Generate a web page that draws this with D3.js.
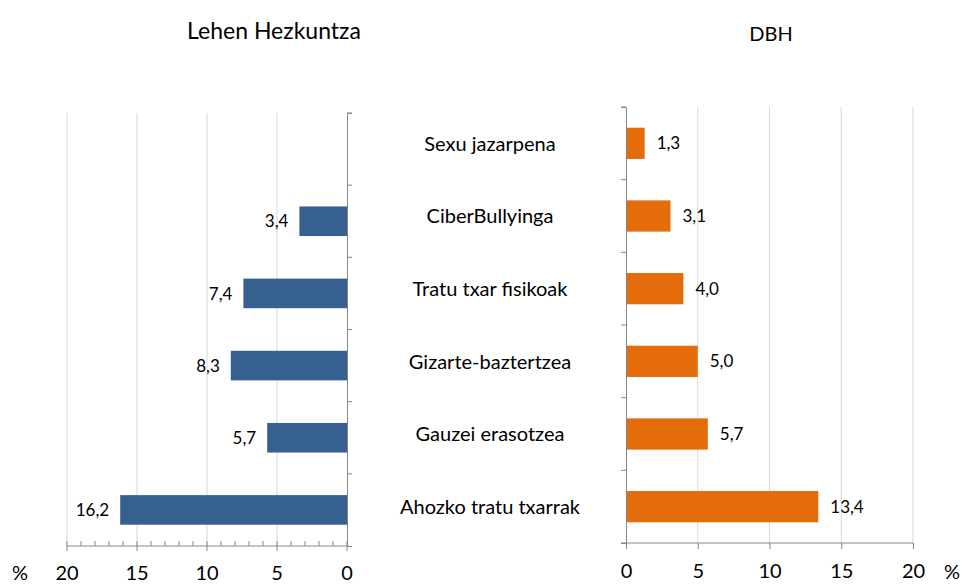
<!DOCTYPE html>
<html>
<head>
<meta charset="utf-8">
<script src="https://cdn.jsdelivr.net/npm/d3@7"></script>
<style>
  body { margin: 0; background: #fff; }
  svg { display: block; font-family: Lato, "Open Sans", sans-serif; }
</style>
</head>
<body>
<div id="chart"></div>
<script>
// categories, top to bottom
const categories = ["Sexu jazarpena", "CiberBullyinga", "Tratu txar fisikoak", "Gizarte-baztertzea", "Gauzei erasotzea", "Ahozko tratu txarrak"];
// Lehen Hezkuntza (no value for the first category)
const primaryValues = [null, 3.4, 7.4, 8.3, 5.7, 16.2];
// DBH
const secondaryValues = [1.3, 3.1, 4.0, 5.0, 5.7, 13.4];
const tickValues = [0, 5, 10, 15, 20];
const titles = ["Lehen Hezkuntza", "DBH"];

const fmt = v => d3.format(".1f")(v).replace(".", ",");

const svg = d3.select('#chart')
    .append('svg')
    .attr('width', 966)
    .attr('height', 585);

const axisColor = "#868686";
const gridColor = "#d9d9d9";

// ---- left panel ----
const xLeft = d3.scaleLinear().domain([0, 20]).range([347, 67]);
const yLeft = d3.scaleBand().domain(categories).range([113, 546]);

// grid lines
svg.append('g').selectAll('line')
    .data(tickValues.filter(d => d > 0))
    .enter().append('line')
    .attr('x1', d => xLeft(d)).attr('x2', d => xLeft(d))
    .attr('y1', 113).attr('y2', 546)
    .attr('stroke', gridColor);

// bars
const barFrac = 0.41;
const leftData = categories.map((c, i) => ({ c, v: primaryValues[i] })).filter(d => d.v !== null);
svg.append('g').selectAll('rect')
    .data(leftData)
    .enter().append('rect')
    .attr('x', d => xLeft(d.v))
    .attr('y', d => yLeft(d.c) + yLeft.bandwidth() * (1 - barFrac) / 2)
    .attr('width', d => xLeft(0) - xLeft(d.v))
    .attr('height', yLeft.bandwidth() * barFrac)
    .attr('fill', '#36608f');

svg.append('g').selectAll('text')
    .data(leftData)
    .enter().append('text')
    .attr('x', d => xLeft(d.v) - 11)
    .attr('y', d => yLeft(d.c) + yLeft.bandwidth() / 2)
    .attr('dy', '0.36em')
    .attr('text-anchor', 'end')
    .style('font-size', '17px')
    .attr('fill', '#000')
    .text(d => fmt(d.v));

// left x axis with minor ticks (inside) and major ticks (crossing)
const leftAxis = svg.append('g');
leftAxis.append('line')
    .attr('x1', xLeft(20)).attr('x2', xLeft(0))
    .attr('y1', 546).attr('y2', 546)
    .attr('stroke', axisColor);
leftAxis.selectAll('.minor')
    .data(d3.range(0, 21))
    .enter().append('line')
    .attr('x1', d => xLeft(d)).attr('x2', d => xLeft(d))
    .attr('y1', 541)
    .attr('y2', d => d % 5 === 0 ? 551 : 546)
    .attr('stroke', axisColor);
leftAxis.selectAll('text')
    .data(tickValues)
    .enter().append('text')
    .attr('x', d => xLeft(d))
    .attr('y', 580)
    .attr('text-anchor', 'middle')
    .style('font-size', '20px')
    .text(d => d);

// left y axis
svg.append('g')
    .attr('transform', `translate(${xLeft(0)},0)`)
    .call(d3.axisRight(yLeft).tickSize(5).tickFormat('').tickSizeOuter(5))
    .call(g => g.selectAll('path, line').attr('stroke', axisColor))
    .call(g => g.selectAll('.tick line').attr('transform', `translate(0,${-yLeft.bandwidth() / 2})`));

// ---- right panel ----
const xRight = d3.scaleLinear().domain([0, 20]).range([626, 913]);
const yRight = d3.scaleBand().domain(categories).range([107, 543]);

svg.append('g').selectAll('line')
    .data(tickValues.filter(d => d > 0))
    .enter().append('line')
    .attr('x1', d => xRight(d)).attr('x2', d => xRight(d))
    .attr('y1', 107).attr('y2', 543)
    .attr('stroke', gridColor);

const rightData = categories.map((c, i) => ({ c, v: secondaryValues[i] }));
svg.append('g').selectAll('rect')
    .data(rightData)
    .enter().append('rect')
    .attr('x', xRight(0))
    .attr('y', d => yRight(d.c) + yRight.bandwidth() * (1 - 0.43) / 2)
    .attr('width', d => xRight(d.v) - xRight(0))
    .attr('height', yRight.bandwidth() * 0.43)
    .attr('fill', '#e46c0a');

svg.append('g').selectAll('text')
    .data(rightData)
    .enter().append('text')
    .attr('x', d => xRight(d.v) + 12)
    .attr('y', d => yRight(d.c) + yRight.bandwidth() / 2)
    .attr('dy', '0.36em')
    .style('font-size', '17px')
    .text(d => fmt(d.v));

svg.append('g')
    .attr('transform', 'translate(0,543)')
    .call(d3.axisBottom(xRight).tickValues(tickValues).tickSize(6).tickSizeOuter(0).tickPadding(0))
    .call(g => g.select('.domain').remove())
    .call(g => g.selectAll('line').attr('stroke', axisColor))
    .call(g => g.selectAll('text').attr('dy', null).attr('y', 35)
        .style('font-size', '20px').style('font-family', 'Lato, sans-serif').attr('fill', '#000'));
svg.append('line')
    .attr('x1', xRight(0) - 5).attr('x2', xRight(20))
    .attr('y1', 543).attr('y2', 543).attr('stroke', axisColor);

svg.append('g')
    .attr('transform', `translate(${xRight(0)},0)`)
    .call(d3.axisLeft(yRight).tickSize(5).tickFormat('').tickSizeOuter(5))
    .call(g => g.selectAll('path, line').attr('stroke', axisColor))
    .call(g => g.selectAll('.tick line').attr('transform', `translate(0,${-yRight.bandwidth() / 2})`));

// category labels in the middle
svg.append('g').selectAll('text')
    .data(categories)
    .enter().append('text')
    .attr('x', 490)
    .attr('y', d => yRight(d) + yRight.bandwidth() / 2)
    .attr('dy', '0.36em')
    .attr('text-anchor', 'middle')
    .style('font-size', '20px')
    .text(d => d);

// titles and unit marks
svg.append('text').attr('x', 274).attr('y', 39).attr('text-anchor', 'middle')
    .style('font-size', '23px').text(titles[0]);
svg.append('text').attr('x', 771).attr('y', 41).attr('text-anchor', 'middle')
    .style('font-size', '20px').text(titles[1]);
svg.append('text').attr('x', 20).attr('y', 580).attr('text-anchor', 'middle')
    .style('font-size', '20px').text('%');
svg.append('text').attr('x', 952).attr('y', 579).attr('text-anchor', 'middle')
    .style('font-size', '20px').text('%');
</script>
</body>
</html>
